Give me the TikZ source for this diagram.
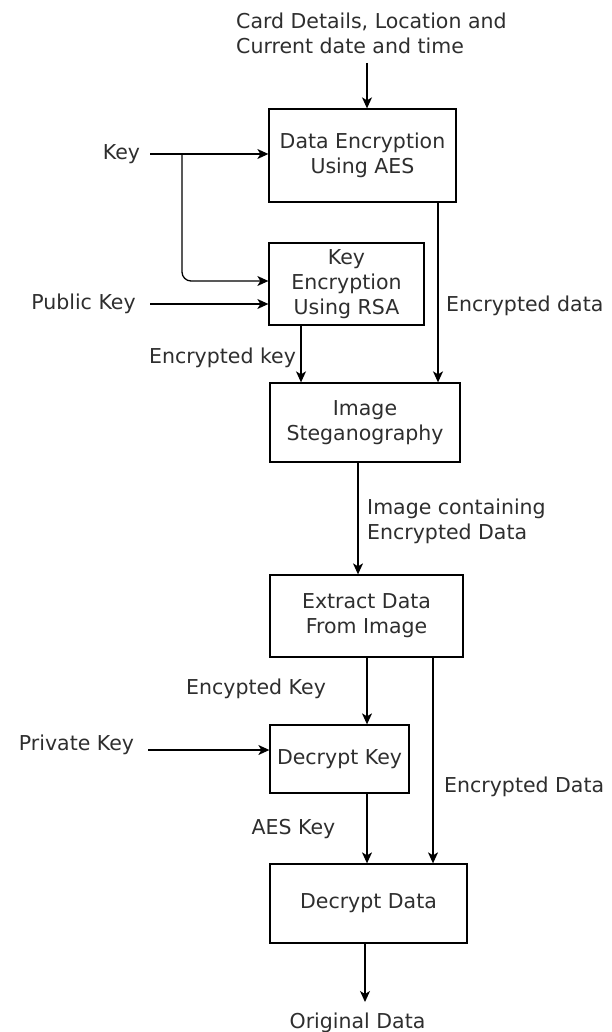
\documentclass[tikz,border=0pt]{standalone}
\usepackage{fontspec}
\setmainfont{DejaVu Sans}
\usetikzlibrary{arrows.meta,calc}
\definecolor{txt}{HTML}{2E2E2E}
\tikzset{
  box/.style={draw=black, line width=1.3pt, align=center, text=txt, inner sep=0pt,
    font=\fontsize{20.5}{25}\selectfont},
  lbl/.style={text=txt, inner sep=0pt, font=\fontsize{20.5}{25}\selectfont},
  arr/.style={draw=black, line width=1.3pt, -{Stealth[length=11pt,width=10pt,inset=3pt]}}
}
\begin{document}
\begin{tikzpicture}[x=1pt,y=-1pt]
\useasboundingbox (0,0) rectangle (612,1032);
\fill[white] (0,0) rectangle (612,1032);
% boxes
\node[box, minimum width=187pt, minimum height=93pt] (enc) at (362.5,155.5) {Data Encryption\\Using AES};
\node[box, minimum width=155pt, minimum height=82pt] (kenc) at (346.5,284) {Key\\Encryption\\Using RSA};
\node[box, minimum width=190pt, minimum height=79pt] (steg) at (365,422.5) {Image\\Steganography};
\node[box, minimum width=193pt, minimum height=82pt] (ext) at (366.5,616) {Extract Data\\From Image};
\node[box, minimum width=139pt, minimum height=68pt] (dk) at (339.5,759) {Decrypt Key};
\node[box, minimum width=197pt, minimum height=79pt] (dd) at (368.5,903.5) {Decrypt Data};
% labels
\node[lbl, anchor=west, align=left] (title) at (236,33.5) {Card Details, Location and\\Current date and time};
\node[lbl] (key) at (121.5,154) {Key};
\node[lbl] (pub) at (83.5,304) {Public Key};
\node[lbl, anchor=west] (edl) at (446,306) {Encrypted data};
\node[lbl] (ekl) at (222.5,358) {Encrypted key};
\node[lbl, anchor=west, align=left] (icl) at (367,521) {Image containing\\Encrypted Data};
\node[lbl] (ekl2) at (256,689) {Encypted Key};
\node[lbl] (priv) at (76.5,745) {Private Key};
\node[lbl, anchor=west] (edl2) at (444,787) {Encrypted Data};
\node[lbl] (aesl) at (293.5,829) {AES Key};
\node[lbl] (orig) at (357.5,1023) {Original Data};
% connectors
\coordinate (t1) at (367,63);
\draw[arr] (t1) -- (t1 |- enc.north);
\draw[arr] ([xshift=10pt]key.east) -- (key.east -| enc.west);
\coordinate (kb) at (182,154);
\draw[arr, rounded corners=9pt] (kb) |- ([yshift=3pt]kenc.west);
\coordinate (pk) at (150,304);
\draw[arr] (pk) -- (pk -| kenc.west);
\coordinate (ed) at ([xshift=75.5pt]enc.south);
\draw[arr] (ed) -- (ed |- steg.north);
\coordinate (ek) at ([xshift=-45.5pt]kenc.south);
\draw[arr] (ek) -- (ek |- steg.north);
\coordinate (sg) at ([xshift=-7pt]steg.south);
\draw[arr] (sg) -- (sg |- ext.north);
\coordinate (x1) at ([xshift=0.5pt]ext.south);
\draw[arr] (x1) -- (x1 |- dk.north);
\coordinate (x2) at ([xshift=66.5pt]ext.south);
\draw[arr] (x2) -- (x2 |- dd.north);
\coordinate (pv) at (148,750);
\draw[arr] (pv) -- (pv -| dk.west);
\coordinate (ak) at ([xshift=27.5pt]dk.south);
\draw[arr] (ak) -- (ak |- dd.north);
\coordinate (od) at (365,1002);
\draw[arr] (od |- dd.south) -- (od);
\end{tikzpicture}
\end{document}
